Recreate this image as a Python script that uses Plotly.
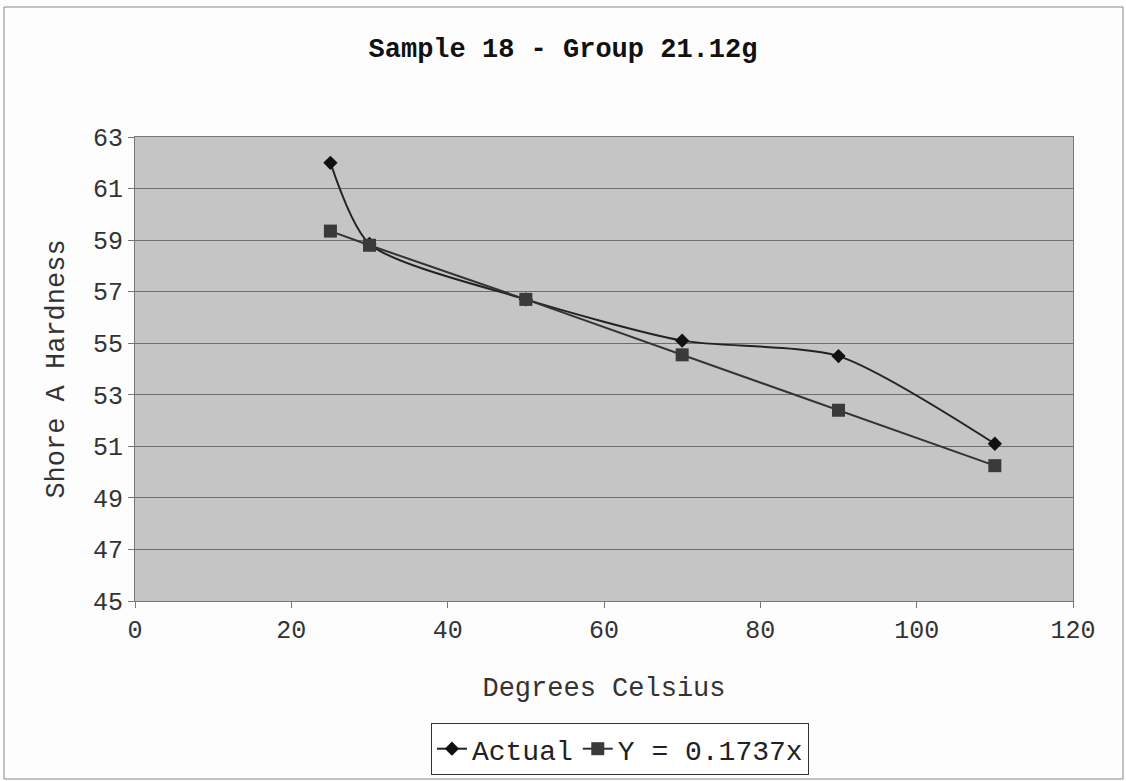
import plotly.graph_objects as go

temps = [25, 30, 50, 70, 90, 110]
actual = [62.0, 58.85, 56.7, 55.1, 54.5, 51.1]
fitted = [59.35, 58.8, 56.7, 54.55, 52.4, 50.25]
x_ticks = [0, 20, 40, 60, 80, 100, 120]
y_ticks = [45, 47, 49, 51, 53, 55, 57, 59, 61, 63]

FONT = "Liberation Mono, Courier New, monospace"

fig = go.Figure()
fig.add_trace(go.Scatter(
    x=temps, y=actual, name="Actual", mode="lines+markers",
    line=dict(color="#222222", width=2, shape="spline", smoothing=0.7),
    marker=dict(symbol="diamond", size=11, color="#111111"),
))
fig.add_trace(go.Scatter(
    x=temps, y=fitted, name="Y = 0.1737x", mode="lines+markers",
    line=dict(color="#333333", width=2),
    marker=dict(symbol="square", size=13, color="#3a3a3a"),
))

fig.update_layout(
    width=1126, height=781,
    margin=dict(l=135, r=53, t=137, b=180, autoexpand=False),
    paper_bgcolor="#fdfdfd",
    plot_bgcolor="#c5c5c5",
    font=dict(family=FONT, color="#333333", size=25),
    title=dict(text="<b>Sample 18 - Group 21.12g</b>", x=0.5, xanchor="center",
               y=1 - 48 / 781, yanchor="middle",
               font=dict(family=FONT, size=27, color="#111111")),
    xaxis=dict(range=[0, 120], tickvals=x_ticks, showgrid=False, zeroline=False,
               showline=True, linecolor="#777777", linewidth=1, mirror=True,
               ticks="outside", ticklen=6, tickcolor="#777777",
               title=dict(text="Degrees Celsius", font=dict(size=27, color="#333333"), standoff=32)),
    yaxis=dict(range=[45, 63], tickvals=y_ticks, showgrid=True, gridcolor="#6e6e6e", gridwidth=1,
               zeroline=False, showline=True, linecolor="#777777", linewidth=1, mirror=True,
               ticks="outside", ticklen=6, tickcolor="#777777",
               title=dict(text="Shore A Hardness", font=dict(size=27, color="#333333"), standoff=20)),
    showlegend=True,
    legend=dict(orientation="h", x=0.517, xanchor="center", y=-0.375, yanchor="bottom",
                bgcolor="#ffffff", bordercolor="#333333", borderwidth=1,
                font=dict(family=FONT, size=28, color="#222222"),
                itemwidth=30, tracegroupgap=0),
)

fig.add_shape(type="rect", xref="paper", yref="paper",
              x0=(4 - 135) / 938, x1=(1123 - 135) / 938,
              y0=(601 - 779) / 464, y1=(601 - 7) / 464,
              line=dict(color="#888888", width=1), fillcolor="rgba(0,0,0,0)", layer="below")

fig.write_html("out.html", config={"displayModeBar": False},
               post_script="document.body.style.margin='0px';")
